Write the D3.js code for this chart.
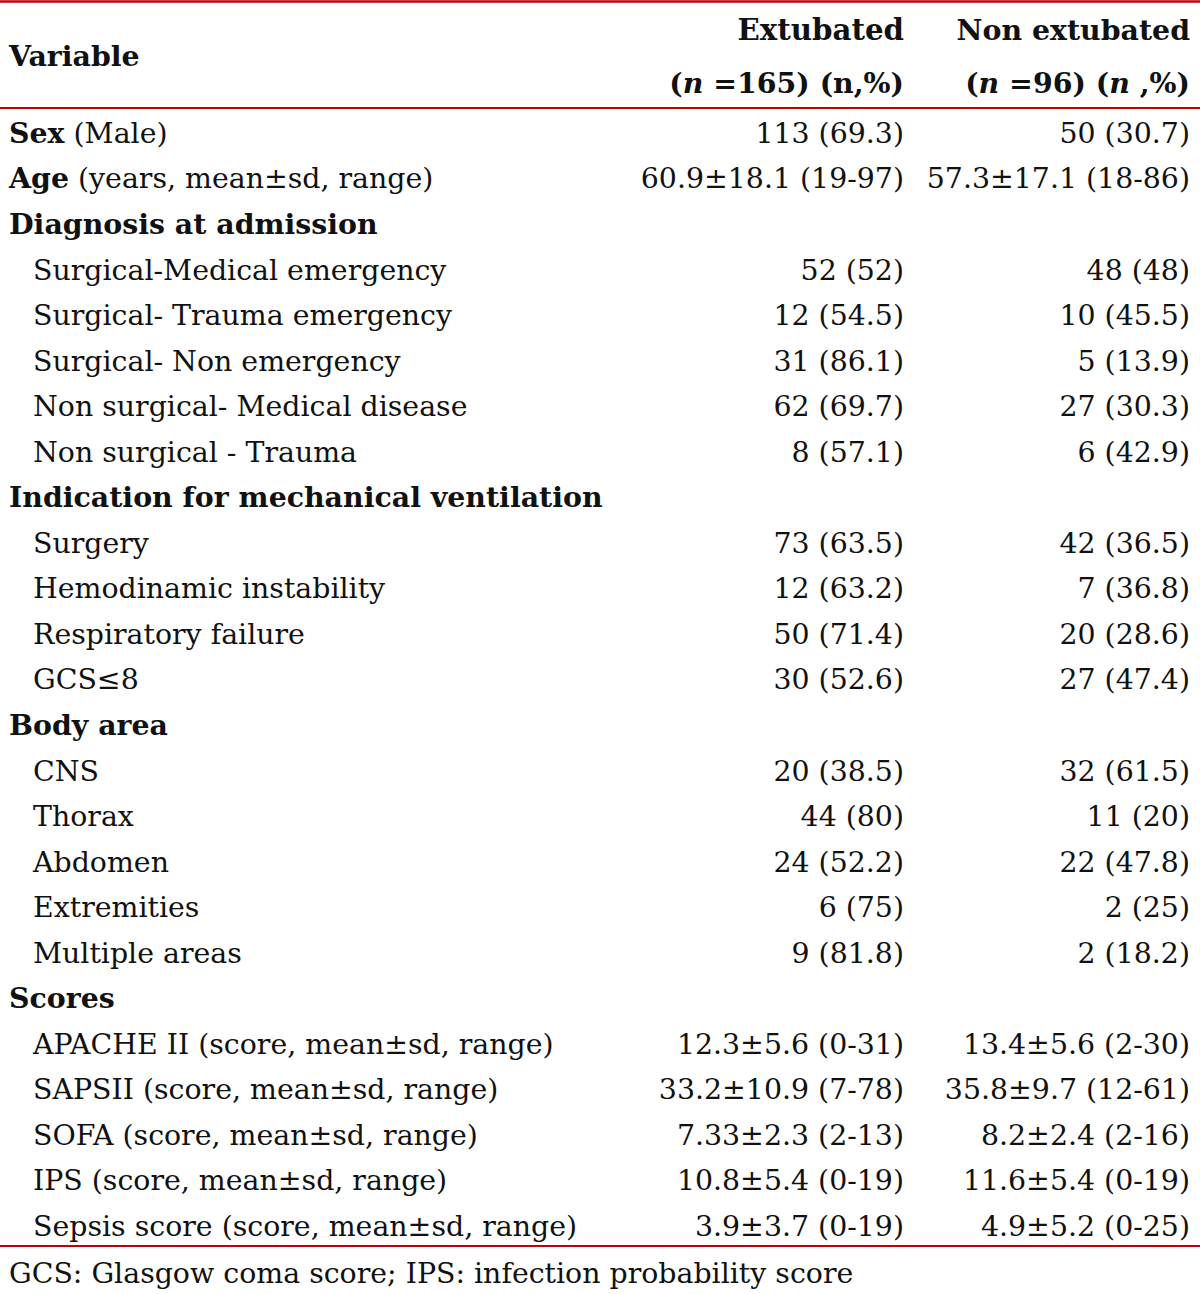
<!DOCTYPE html>
<html><head><meta charset="utf-8">
<script src="https://cdn.jsdelivr.net/npm/d3@7"></script>
<style>body{margin:0;background:#fff}svg{display:block}</style>
</head><body>
<script>
const headers = ["Variable", "Extubated", "Non extubated"];
const rowKinds = ["lead","lead","section","item","item","item","item","item","section","item","item","item","item","section","item","item","item","item","item","section","item","item","item","item","item"];
const rowBold = ["Sex","Age","Diagnosis at admission","","","","","","Indication for mechanical ventilation","","","","","Body area","","","","","","Scores","","","","",""];
const rowText = [" (Male)"," (years, mean±sd, range)","","Surgical-Medical emergency","Surgical- Trauma emergency","Surgical- Non emergency","Non surgical- Medical disease","Non surgical - Trauma","","Surgery","Hemodinamic instability","Respiratory failure","GCS≤8","","CNS","Thorax","Abdomen","Extremities","Multiple areas","","APACHE II (score, mean±sd, range)","SAPSII (score, mean±sd, range)","SOFA (score, mean±sd, range)","IPS (score, mean±sd, range)","Sepsis score (score, mean±sd, range)"];
const extubated = ["113 (69.3)","60.9±18.1 (19-97)","","52 (52)","12 (54.5)","31 (86.1)","62 (69.7)","8 (57.1)","","73 (63.5)","12 (63.2)","50 (71.4)","30 (52.6)","","20 (38.5)","44 (80)","24 (52.2)","6 (75)","9 (81.8)","","12.3±5.6 (0-31)","33.2±10.9 (7-78)","7.33±2.3 (2-13)","10.8±5.4 (0-19)","3.9±3.7 (0-19)"];
const nonExtubated = ["50 (30.7)","57.3±17.1 (18-86)","","48 (48)","10 (45.5)","5 (13.9)","27 (30.3)","6 (42.9)","","42 (36.5)","7 (36.8)","20 (28.6)","27 (47.4)","","32 (61.5)","11 (20)","22 (47.8)","2 (25)","2 (18.2)","","13.4±5.6 (2-30)","35.8±9.7 (12-61)","8.2±2.4 (2-16)","11.6±5.4 (0-19)","4.9±5.2 (0-25)"];
const footnote = "GCS: Glasgow coma score; IPS: infection probability score";

const W = 1200, H = 1294;
const FONT = "'DejaVu Serif', serif";
const FS = 28.4;
const RED = "#c0000a";

const svg = d3.select("body").append("svg").attr("width", W).attr("height", H);

const y = d3.scalePoint().domain(d3.range(rowKinds.length)).range([133, 1226]);
const x = d3.scaleOrdinal().domain(["label","item","ext","non"]).range([9, 33, 904, 1190]);

// rules
[[1.5,2.5],[108,2],[1246,2]].forEach(([yy, sw]) => {
  svg.append("line").attr("x1",0).attr("x2",W).attr("y1",yy).attr("y2",yy)
    .attr("stroke",RED).attr("stroke-width",sw);
});

const g = svg.append("g").attr("font-family", FONT).attr("font-size", FS).attr("fill","#111");

// header
g.append("text").attr("x", x("label")).attr("y", 56).attr("dy","0.35em").attr("font-weight","bold").text(headers[0]);
g.append("text").attr("x", x("ext")).attr("y", 30).attr("dy","0.35em").attr("text-anchor","end").attr("font-weight","bold").attr("font-size", FS*1.03).text(headers[1]);
g.append("text").attr("x", x("non")).attr("y", 30).attr("dy","0.35em").attr("text-anchor","end").attr("font-weight","bold").attr("font-size", FS*1.0).text(headers[2]);
const h1 = g.append("text").attr("x", x("ext")).attr("y", 83).attr("dy","0.35em").attr("text-anchor","end").attr("font-weight","bold");
h1.append("tspan").text("(");
h1.append("tspan").attr("font-style","italic").text("n");
h1.append("tspan").text(" =165) (n,%)");
const h2 = g.append("text").attr("x", x("non")).attr("y", 83).attr("dy","0.35em").attr("text-anchor","end").attr("font-weight","bold");
h2.append("tspan").text("(");
h2.append("tspan").attr("font-style","italic").text("n");
h2.append("tspan").text(" =96) (");
h2.append("tspan").attr("font-style","italic").text("n");
h2.append("tspan").text(" ,%)");

// rows
rowKinds.forEach((k, i) => {
  const t = g.append("text").attr("x", k === "item" ? x("item") : x("label")).attr("y", y(i)).attr("dy","0.35em");
  if (rowBold[i]) t.append("tspan").attr("font-weight","bold").text(rowBold[i]);
  if (rowText[i]) t.append("tspan").text(rowText[i]);
  if (extubated[i]) g.append("text").attr("x", x("ext")).attr("y", y(i)).attr("dy","0.35em").attr("text-anchor","end").text(extubated[i]);
  if (nonExtubated[i]) g.append("text").attr("x", x("non")).attr("y", y(i)).attr("dy","0.35em").attr("text-anchor","end").text(nonExtubated[i]);
});

g.append("text").attr("x", x("label")).attr("y", 1273).attr("dy","0.35em").text(footnote);
</script>
</body></html>
